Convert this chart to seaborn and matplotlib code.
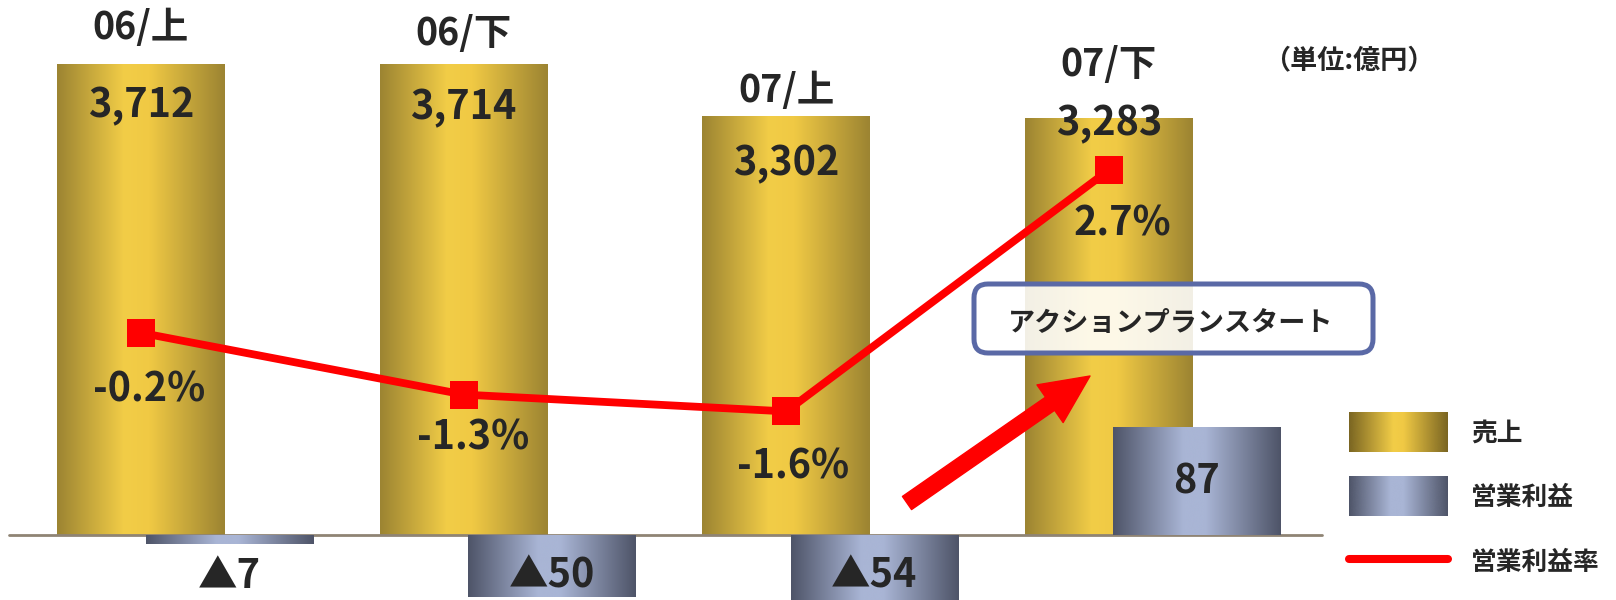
import numpy as np
import matplotlib
matplotlib.use('Agg')
import matplotlib.pyplot as plt
import seaborn as sns
from matplotlib.colors import LinearSegmentedColormap
from matplotlib.patches import Patch, FancyBboxPatch, FancyArrowPatch
from matplotlib.lines import Line2D
from matplotlib.legend_handler import HandlerBase
from matplotlib.image import BboxImage
from matplotlib.transforms import Bbox, TransformedBbox

# data (億円 / %)
periods = ['06/上', '06/下', '07/上', '07/下']
sales = [3712, 3714, 3302, 3283]
profit = [-7, -50, -54, 87]
margin = [-0.2, -1.3, -1.6, 2.7]
legend_labels = ['売上', '営業利益', '営業利益率']

sns.set_style('white')
plt.rcParams['font.family'] = ['Noto Sans CJK JP', 'DejaVu Sans']

gold = LinearSegmentedColormap.from_list('gold', [(0, '#9c8432'), (0.4, '#f2cd47'), (0.55, '#f0c944'), (1, '#9c8432')])
slate = LinearSegmentedColormap.from_list('slate', [(0, '#4e5468'), (0.42, '#a9b5d5'), (0.55, '#a9b5d5'), (1, '#4e5468')])
gold_leg = LinearSegmentedColormap.from_list('gold_leg', [(0, '#7a6522'), (0.45, '#f2cd47'), (0.55, '#f0c944'), (1, '#7a6522')])


def gradient_bars(axis, cmap):
    grad = np.linspace(0, 1, 256).reshape(1, -1)
    for p in list(axis.patches):
        x0, y0, w, h = p.get_x(), p.get_y(), p.get_width(), p.get_height()
        axis.imshow(grad, cmap=cmap, extent=[x0, x0 + w, y0, y0 + h],
                    aspect='auto', interpolation='bicubic', zorder=p.get_zorder())
        p.set_visible(False)


class GradientHandler(HandlerBase):
    def __init__(self, cmap):
        super().__init__()
        self.cmap = cmap

    def create_artists(self, legend, orig_handle, xdescent, ydescent, width, height, fontsize, trans):
        bb = TransformedBbox(Bbox.from_bounds(-xdescent, -ydescent - 0.3 * height, width, height * 1.6), trans)
        img = BboxImage(bb, cmap=self.cmap, interpolation='bicubic')
        img.set_data(np.linspace(0, 1, 256).reshape(1, -1))
        return [img]


fig = plt.figure(figsize=(16.16, 6), dpi=100)
ax = fig.add_axes([0, 0, 1, 1])
ax2 = ax.twinx()
ax3 = ax.twinx()

x = np.arange(len(periods))
sns.barplot(x=x, y=sales, native_scale=True, width=0.52, color='#f0c944', ax=ax)
sns.barplot(x=x + 0.273, y=profit, native_scale=True, width=0.518, color='#a9b5d5', ax=ax2)
gradient_bars(ax, gold)
gradient_bars(ax2, slate)

sns.lineplot(x=x, y=margin, ax=ax3, color='#ff0000', lw=5.6, marker='s',
             markersize=19.5, markeredgewidth=0)

ax.axhline(0, xmin=9 / 1616, xmax=1322 / 1616, color='#8f8474', lw=2, zorder=5)

for a in (ax, ax2, ax3):
    a.set_xlim(-0.437, 4.572)
    a.axis('off')
ax.set_ylim(-508.9, 4224.9)
ax2.set_ylim(-52.2, 433.3)
ax3.set_ylim(-4.96, 5.73)

num_font = dict(fontsize=28.5, fontweight='bold')

# period labels and sales values
period_off = [38, 31, 26, 55]
value_off = [-41, -43, -47, -4]
for i, s in enumerate(sales):
    ax.annotate(periods[i], (x[i], s), xytext=(0, period_off[i]), textcoords='offset pixels',
                ha='center', va='center', fontsize=27, fontweight='bold', zorder=10)
    ax.annotate(f'{s:,}', (x[i], s), xytext=(0, value_off[i]), textcoords='offset pixels',
                ha='center', va='center', zorder=10, **num_font)

# margin labels
pct_dx = [8, 10, 7, 14]
pct_dy = [-57, -43, -56, -54]
for i, m in enumerate(margin):
    ax3.annotate(f'{m:.1f}%', (x[i], m), xytext=(pct_dx[i], pct_dy[i]), textcoords='offset pixels',
                 ha='center', va='center', **num_font)

# profit labels
for i, v in enumerate(profit):
    if v < 0:
        ax2.annotate(f'▲{abs(v)}', (x[i] + 0.273, 0), xytext=(0, -41), textcoords='offset pixels',
                     ha='center', va='center', **num_font)
    else:
        ax2.annotate(f'{v}', (x[i] + 0.273, v / 2), ha='center', va='center', **num_font)

# legend
handles = [Patch(label=legend_labels[0]), Patch(label=legend_labels[1]),
           Line2D([], [], color='#ff0000', lw=5.8, label=legend_labels[2])]
ax3.legend(handles=handles,
           handler_map={handles[0]: GradientHandler(gold_leg), handles[1]: GradientHandler(slate)},
           loc='upper left', bbox_to_anchor=(1349 / 1616, 1 - 420 / 600), bbox_transform=fig.transFigure,
           frameon=False, borderpad=0, borderaxespad=0, handlelength=3.84, handleheight=1.1,
           labelspacing=1.45, handletextpad=0.92,
           prop={'family': 'Noto Sans CJK JP', 'weight': 'bold', 'size': 18.5})

fig.text(1349 / 1616, 1 - 60 / 600, '（単位:億円）', ha='center', va='center',
         fontsize=19.5, fontweight='bold')

# annotation box and arrow
box = FancyBboxPatch((9.74, 2.47), 3.99, 0.69, boxstyle='round,pad=0,rounding_size=0.14',
                     transform=fig.dpi_scale_trans, facecolor='white', alpha=0.88,
                     edgecolor='none', zorder=20)
fig.add_artist(box)
box_edge = FancyBboxPatch((9.74, 2.47), 3.99, 0.69, boxstyle='round,pad=0,rounding_size=0.14',
                          transform=fig.dpi_scale_trans, facecolor='none',
                          edgecolor='#5a69a6', lw=3.6, zorder=21)
fig.add_artist(box_edge)
fig.text(1171 / 1616, 1 - 323 / 600, 'アクションプランスタート', ha='center', va='center',
         fontsize=19.5, fontweight='bold', zorder=22)

fig.add_artist(FancyArrowPatch(
    (907, 97), (1090, 224), transform=None,
    arrowstyle='simple,head_length=3.5,head_width=3.3,tail_width=1.15',
    mutation_scale=10, color='#ff0000', shrinkA=0, shrinkB=0, zorder=15))

fig.savefig('out.png', dpi=100)
